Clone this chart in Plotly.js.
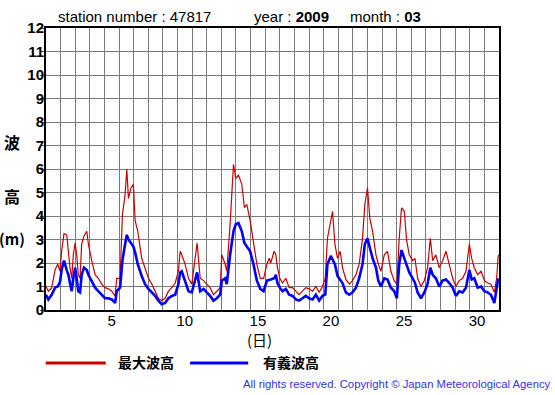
<!DOCTYPE html>
<html>
<head>
<meta charset="utf-8">
<script src="https://cdn.plot.ly/plotly-3.0.1.min.js"></script>
<style>html,body{margin:0;padding:0;background:#fff;}#chart{width:555px;height:395px;}</style>
</head>
<body>
<div id="chart"></div>
<script>
// ---- data (day of month as decimal, wave heights in m) ----
const times = [
 1.00,1.16,1.39,1.62,1.80,1.96,2.07,2.23,2.42,2.53,2.64,2.76,2.87,2.99,3.10,3.21,3.33,3.44,3.60,3.79,3.90,
 4.13,4.36,4.58,4.81,5.04,5.27,5.50,5.73,5.84,6.07,6.23,6.41,6.53,6.64,6.82,6.98,7.10,7.28,7.55,7.78,
 8.01,8.24,8.47,8.69,8.92,9.15,9.38,9.61,9.84,10.06,10.18,10.29,10.52,10.75,10.98,11.21,11.34,11.55,11.78,
 12.00,12.23,12.46,12.69,12.92,13.03,13.26,13.37,13.60,13.83,13.99,14.17,14.40,14.58,14.74,14.97,15.20,
 15.43,15.66,15.89,16.12,16.28,16.38,16.61,16.73,16.84,17.00,17.18,17.41,17.64,17.87,18.10,18.32,18.55,
 18.78,19.01,19.24,19.47,19.69,19.92,20.11,20.26,20.49,20.61,20.77,20.95,21.13,21.29,21.52,21.75,21.98,
 22.21,22.43,22.66,22.82,23.00,23.16,23.35,23.58,23.74,23.92,24.15,24.37,24.60,24.83,25.01,25.17,25.33,
 25.52,25.68,25.86,26.09,26.25,26.43,26.66,26.89,27.11,27.30,27.46,27.68,27.91,28.14,28.37,28.60,28.83,
 29.05,29.28,29.51,29.74,29.97,30.13,30.31,30.54,30.77,31.00,31.22,31.45,31.68,31.84,31.95
];
const maxWave = [
 1.0,0.8,0.95,1.7,1.95,1.65,2.5,3.25,3.2,2.35,1.8,1.35,2.35,2.85,2.35,1.5,1.35,2.8,3.15,3.35,2.8,
 2.1,1.5,1.35,1.1,0.95,0.9,0.8,0.6,1.35,1.35,4.05,4.9,6.0,4.75,5.2,5.35,3.8,3.35,2.2,1.8,
 1.35,1.1,0.8,0.5,0.4,0.5,0.8,0.95,1.15,1.65,2.5,2.35,1.95,1.35,1.1,2.35,2.85,1.35,1.25,
 1.1,0.95,0.65,0.8,0.95,2.35,1.95,1.65,3.65,6.2,5.6,5.75,5.35,4.35,4.5,3.8,2.8,
 1.95,1.35,1.35,1.95,2.2,2.0,2.5,2.35,1.8,1.35,1.15,1.35,0.95,0.95,0.8,0.65,0.8,
 0.95,0.9,0.8,1.0,0.75,1.0,1.35,3.05,3.8,4.2,2.8,2.2,2.5,1.8,1.3,1.1,1.25,
 1.5,1.95,3.05,4.5,5.2,3.9,3.35,2.35,1.95,1.65,2.35,2.5,1.65,1.25,1.1,3.05,4.35,
 4.2,2.95,2.35,2.1,2.2,1.35,1.0,1.25,1.8,3.05,2.1,2.35,1.8,2.1,2.5,1.95,1.35,
 1.0,1.25,1.35,1.65,2.8,2.2,1.8,1.5,1.65,1.25,1.15,1.1,0.75,1.35,2.35
];
const sigWave = [
 0.65,0.45,0.65,0.95,1.0,1.2,1.7,2.1,1.7,1.5,1.15,0.8,1.35,1.8,1.35,0.8,0.75,1.5,1.8,1.7,1.5,
 1.25,0.95,0.8,0.65,0.5,0.5,0.45,0.3,0.8,0.95,2.1,2.8,3.2,3.0,2.85,2.7,2.45,1.95,1.45,1.1,
 0.9,0.75,0.6,0.4,0.25,0.3,0.5,0.6,0.65,1.1,1.6,1.65,1.25,0.8,0.75,1.25,1.6,0.8,0.9,
 0.75,0.6,0.4,0.5,0.65,1.25,1.35,1.1,2.35,3.35,3.65,3.7,3.35,2.85,2.7,2.5,1.95,
 1.25,0.9,0.8,1.25,1.3,1.3,1.35,1.5,1.15,0.95,0.8,0.9,0.65,0.6,0.45,0.4,0.5,
 0.6,0.5,0.45,0.65,0.4,0.6,0.65,1.95,2.3,2.15,1.95,1.45,1.3,1.15,0.75,0.65,0.75,
 0.95,1.35,1.95,2.8,3.05,2.65,2.2,1.8,1.25,1.0,1.35,1.3,0.95,0.8,0.5,1.95,2.55,
 2.2,1.95,1.6,1.35,1.15,0.75,0.5,0.75,1.1,1.8,1.5,1.35,1.0,1.25,1.3,1.15,0.95,
 0.6,0.8,0.75,0.95,1.7,1.3,1.35,0.95,1.0,0.8,0.75,0.65,0.3,0.95,1.35
];
const tickDays = [5, 10, 15, 20, 25, 30];
const tickLabels = ['5', '10', '15', '20', '25', '30'];
const seriesNames = ['最大波高', '有義波高'];

// ---- layout helpers (pixel -> paper) ----
const PL = 46, PR = 498.6, PT = 28, PB = 310.5;
const px = x => (x - PL) / (PR - PL);
const py = y => (PB - y) / (PB - PT);

const sans = 'Liberation Sans, Arial, sans-serif';
const cjk = 'Noto Sans CJK JP, sans-serif';

const traces = [
  {x: times, y: maxWave, type: 'scatter', mode: 'lines', name: seriesNames[0],
   line: {color: '#cc0000', width: 1.2}, showlegend: false, hoverinfo: 'skip'},
  {x: times, y: sigWave, type: 'scatter', mode: 'lines', name: seriesNames[1],
   line: {color: '#0000ff', width: 2.6}, showlegend: false, hoverinfo: 'skip'}
];

function ann(text, x, y, opts) {
  return Object.assign({text: text, x: px(x), y: py(y), xref: 'paper', yref: 'paper',
    showarrow: false, xanchor: 'center', yanchor: 'middle',
    font: {family: sans, size: 15, color: '#000'}}, opts || {});
}

const layout = {
  width: 555, height: 395,
  margin: {l: PL, r: 555 - PR, t: PT, b: 395 - PB, pad: 0},
  paper_bgcolor: '#fff', plot_bgcolor: '#fff',
  showlegend: false,
  xaxis: {
    range: [1, 32], tickmode: 'array',
    tickvals: tickDays.map(d => d + 0.5), ticktext: tickLabels,
    ticks: '', showgrid: false, zeroline: false, ticklabelstandoff: -4,
    showline: true, mirror: true, linecolor: '#000', linewidth: 2,
    tickfont: {family: sans, size: 15, color: '#000'},
    minor: {tick0: 1, dtick: 1, showgrid: true, gridcolor: '#7a7a7a', gridwidth: 1, ticks: ''}
  },
  yaxis: {
    range: [0, 12], dtick: 1, tick0: 0,
    ticks: 'outside', ticklen: 4, tickcolor: '#555', tickwidth: 1, ticklabelstandoff: -7,
    showgrid: true, gridcolor: '#7a7a7a', gridwidth: 1, zeroline: false,
    showline: true, mirror: true, linecolor: '#000', linewidth: 2,
    tickfont: {family: sans, size: 15, color: '#000', weight: 'bold'}
  },
  shapes: [
    {type: 'line', xref: 'paper', yref: 'paper', x0: px(45.7), x1: px(105.7), y0: py(363.5), y1: py(363.5),
     line: {color: '#cc0000', width: 3}},
    {type: 'line', xref: 'paper', yref: 'paper', x0: px(190), x1: px(248), y0: py(363.5), y1: py(363.5),
     line: {color: '#0000ff', width: 3}}
  ],
  annotations: [
    ann('station number : 47817', 56, 16, {xanchor: 'left'}),
    ann('year : <b>2009</b>', 252, 16, {xanchor: 'left'}),
    ann('month : <b>03</b>', 348, 16, {xanchor: 'left'}),
    ann('<b>波</b>', 12.5, 142, {font: {family: cjk, size: 16, color: '#000'}}),
    ann('<b>高</b>', 12.5, 196, {font: {family: cjk, size: 16, color: '#000'}}),
    ann('<b>(m)</b>', 12.5, 239, {font: {family: cjk, size: 15, color: '#000'}}),
    ann('(日)', 259, 340, {font: {family: cjk, size: 15, color: '#000'}}),
    ann('<b>' + seriesNames[0] + '</b>', 116, 363, {xanchor: 'left', font: {family: cjk, size: 14, color: '#000'}}),
    ann('<b>' + seriesNames[1] + '</b>', 261, 363, {xanchor: 'left', font: {family: cjk, size: 14, color: '#000'}}),
    ann('All rights reserved. Copyright © Japan Meteorological Agency', 553, 385,
        {xanchor: 'right', font: {family: sans, size: 11.3, color: '#3333ee'}})
  ]
};

Plotly.newPlot('chart', traces, layout, {staticPlot: true, displayModeBar: false});
</script>
</body>
</html>
